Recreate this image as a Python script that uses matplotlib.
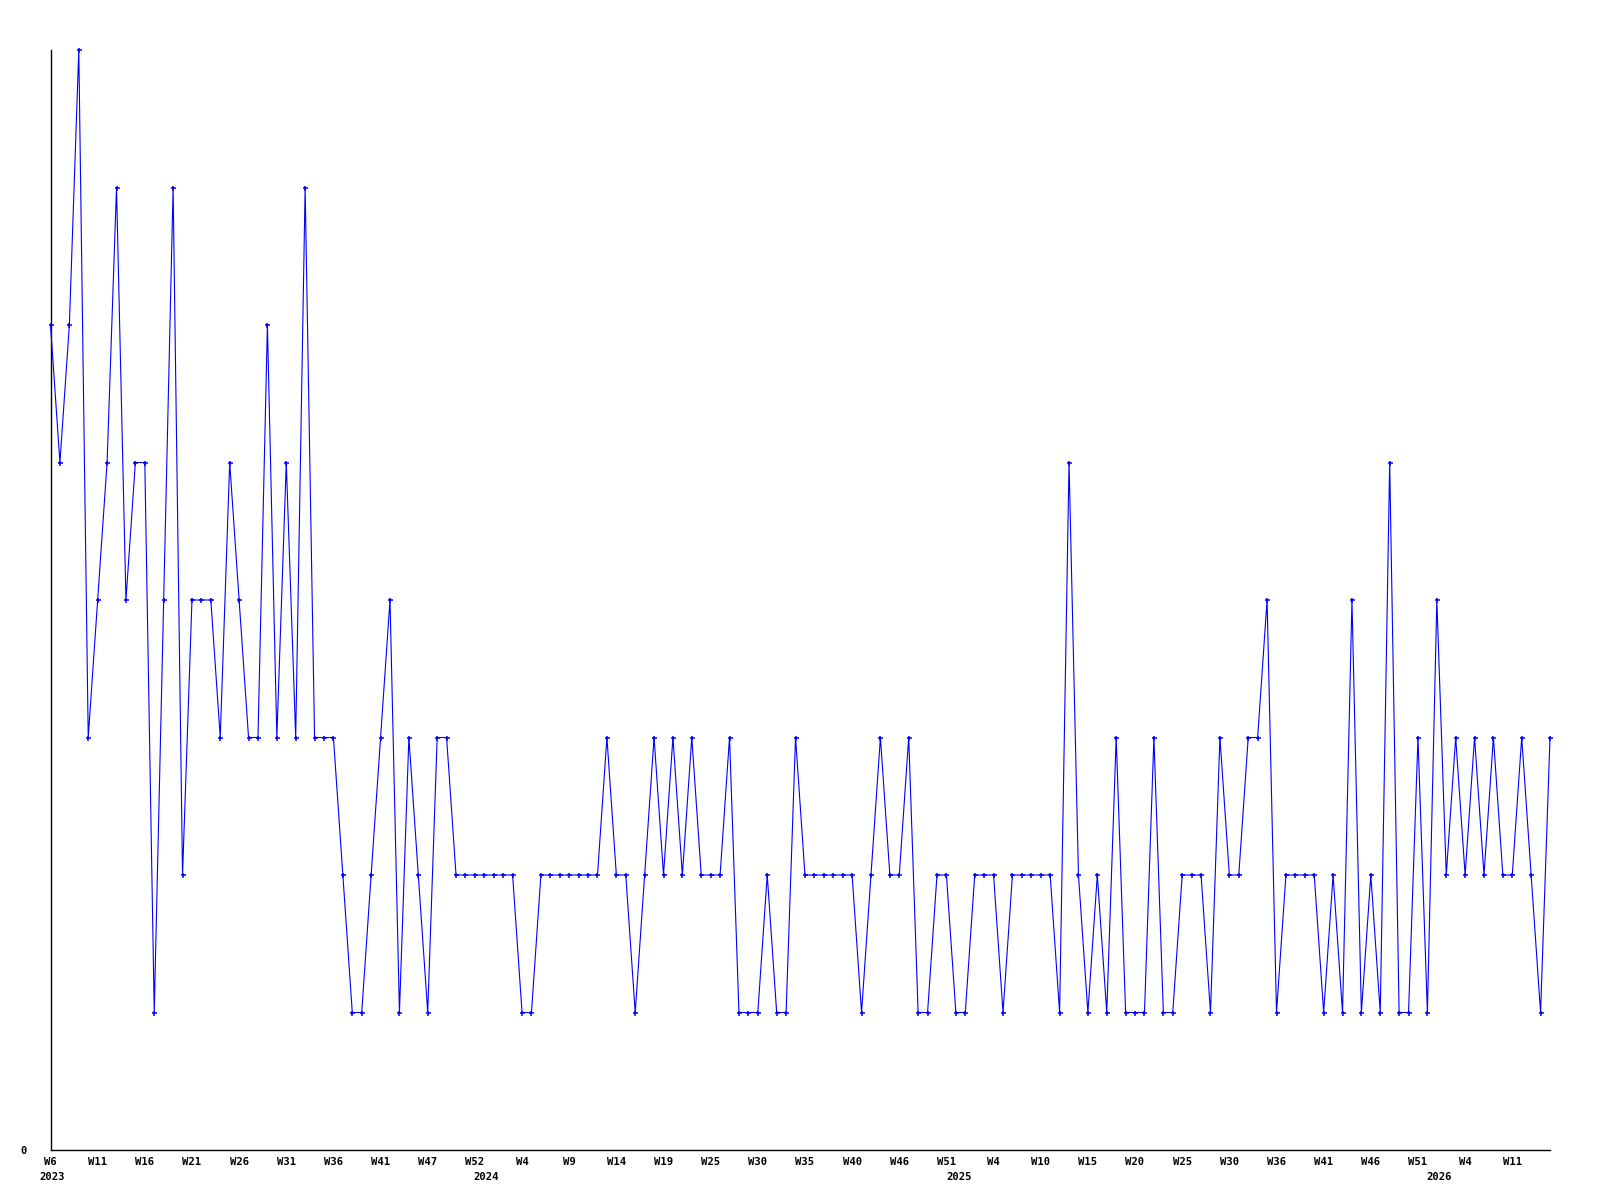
import matplotlib
matplotlib.use("Agg")
import matplotlib.pyplot as plt

# weekly counts, starting 2023 W6
values = [6, 5, 6, 8, 3, 4, 5, 7, 4, 5,
          5, 1, 4, 7, 2, 4, 4, 4, 3, 5,
          4, 3, 3, 6, 3, 5, 3, 7, 3, 3,
          3, 2, 1, 1, 2, 3, 4, 1, 3, 2,
          1, 3, 3, 2, 2, 2, 2, 2, 2, 2,
          1, 1, 2, 2, 2, 2, 2, 2, 2, 3,
          2, 2, 1, 2, 3, 2, 3, 2, 3, 2,
          2, 2, 3, 1, 1, 1, 2, 1, 1, 3,
          2, 2, 2, 2, 2, 2, 1, 2, 3, 2,
          2, 3, 1, 1, 2, 2, 1, 1, 2, 2,
          2, 1, 2, 2, 2, 2, 2, 1, 5, 2,
          1, 2, 1, 3, 1, 1, 1, 3, 1, 1,
          2, 2, 2, 1, 3, 2, 2, 3, 3, 4,
          1, 2, 2, 2, 2, 1, 2, 1, 4, 1,
          2, 1, 5, 1, 1, 3, 1, 4, 2, 3,
          2, 3, 2, 3, 2, 2, 3, 2, 1, 3]

week_labels = ["W6", "W11", "W16", "W21", "W26", "W31", "W36", "W41", "W47", "W52",
               "W4", "W9", "W14", "W19", "W25", "W30", "W35", "W40", "W46", "W51",
               "W4", "W10", "W15", "W20", "W25", "W30", "W36", "W41", "W46", "W51",
               "W4", "W11"]
tick_step = 5

years = ["2023", "2024", "2025", "2026"]
year_pos = [0.2, 46.2, 96.3, 147.2]

fig = plt.figure(figsize=(16, 12), dpi=100)
ax = fig.add_axes([50.5 / 1600, 50 / 1200, 1499.5 / 1600, 1100 / 1200])

x = list(range(len(values)))
ax.plot(x, values, color="#0000ff", linewidth=0.8, marker="+",
        markersize=3.6, markeredgewidth=1.1, clip_on=False, zorder=3)

ax.set_xlim(0, len(values) - 1)
ax.set_ylim(0, 8)

for side in ["top", "right"]:
    ax.spines[side].set_visible(False)
for side in ["left", "bottom"]:
    ax.spines[side].set_linewidth(1.0)
    ax.spines[side].set_color("black")

mono = {"family": "DejaVu Sans Mono", "weight": "bold", "size": 7.6}

ax.set_yticks([0])
ax.set_yticklabels(["0"], fontdict=mono)
ax.tick_params(axis="y", length=0, pad=17)

ax.set_xticks(x[::tick_step][:len(week_labels)])
ax.set_xticklabels(week_labels, fontdict=mono)
ax.tick_params(axis="x", length=0, pad=5)

for yr, pos in zip(years, year_pos):
    ax.text(pos, -27 / 1100, yr, transform=ax.get_xaxis_transform(),
            ha="center", va="center", **mono)

fig.savefig("out.png", dpi=100, facecolor="white")
